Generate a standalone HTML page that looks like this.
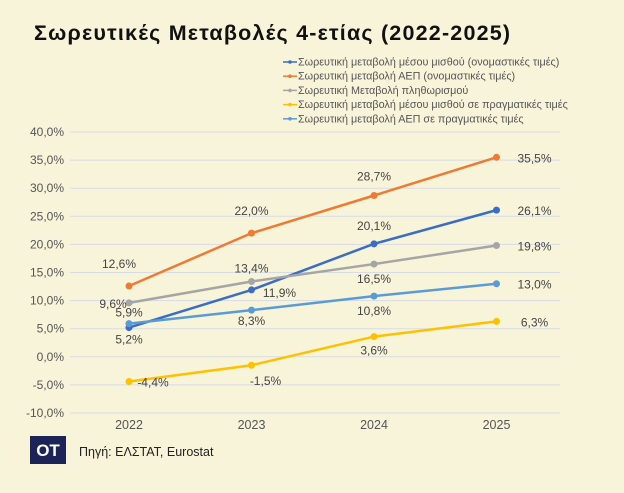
<!DOCTYPE html>
<html><head><meta charset="utf-8">
<style>
body{margin:0;background:#f8f4da;font-family:"Liberation Sans","DejaVu Sans",sans-serif;}
#wrap{position:relative;width:624px;height:493px;background:#f8f4da;overflow:hidden}
</style></head>
<body>
<div id="wrap">
<svg id="chart" width="624" height="493">
<text x="34" y="40" font-size="21.5" font-weight="bold" fill="#111" letter-spacing="1.2">Σωρευτικές Μεταβολές 4-ετίας (2022-2025)</text>
<rect x="30" y="436" width="36" height="28" fill="#1c2457"/>
<text x="48" y="456" font-size="17" font-weight="bold" fill="#fff" text-anchor="middle">OT</text>
<text x="79" y="456" font-size="12.5" fill="#222">Πηγή: ΕΛΣΤΑΤ, Eurostat</text>
</svg>
</div>
<script>
const categories=["2022","2023","2024","2025"];
const wageNominal=[5.2,11.9,20.1,26.1];
const gdpNominal=[12.6,22.0,28.7,35.5];
const inflation=[9.6,13.4,16.5,19.8];
const wageReal=[-4.4,-1.5,3.6,6.3];
const gdpReal=[5.9,8.3,10.8,13.0];
const yTicks=[40,35,30,25,20,15,10,5,0,-5,-10];
const seriesNames=["Σωρευτική μεταβολή μέσου μισθού (ονομαστικές τιμές)","Σωρευτική μεταβολή ΑΕΠ (ονομαστικές τιμές)","Σωρευτική Μεταβολή πληθωρισμού","Σωρευτική μεταβολή μέσου μισθού σε πραγματικές τιμές","Σωρευτική μεταβολή ΑΕΠ σε πραγματικές τιμές"];

const NS="http://www.w3.org/2000/svg";
const svg=document.getElementById('chart');
const yS=v=>132+(40-v)*5.62;
const xS=i=>129+i*122.5;
const fmt=v=>v.toFixed(1).replace('.',',')+'%';
function mk(tag,attrs,parent){const e=document.createElementNS(NS,tag);for(const k in attrs)e.setAttribute(k,attrs[k]);(parent||svg).appendChild(e);return e;}

yTicks.forEach(t=>{
  const l=mk('line',{x1:70,x2:560,y1:yS(t),y2:yS(t),stroke:'#d6dbe6','stroke-width':1});
  
  
  const tx=mk('text',{x:64,y:yS(t)+4,'font-size':12,fill:'#555','text-anchor':'end'});
  tx.textContent=fmt(t);
  
  
});
categories.forEach((c,i)=>{
  const tx=mk('text',{x:xS(i),y:429,'font-size':12.5,fill:'#555','text-anchor':'middle'});
  tx.textContent=c;
  
  
});

const series=[
 {d:wageNominal,c:'#3b6cc6',off:[[0,16],[28,7],[0,-14],[38,5]]},
 {d:gdpNominal,c:'#f07a33',off:[[-10,-18],[0,-18],[0,-15],[38,5]]},
 {d:inflation,c:'#a5a5a5',off:[[-16,5],[0,-9],[0,19],[38,5]]},
 {d:wageReal,c:'#ffc000',off:[[24,5],[14,20],[0,18],[38,5]]},
 {d:gdpReal,c:'#5b9bd5',off:[[0,-7],[0,15],[0,19],[38,5]]}
];
series.forEach((s,si)=>{
  const g=mk('g',{});
  
  
  const pts=s.d.map((v,i)=>xS(i)+','+yS(v)).join(' ');
  const pl=mk('polyline',{points:pts,fill:'none',stroke:s.c,'stroke-width':2.5},g);
  
  
  s.d.forEach((v,i)=>{
    const c=mk('circle',{cx:xS(i),cy:yS(v),r:3.5,fill:s.c},g);
    
    
    const t=mk('text',{x:xS(i)+s.off[i][0],y:yS(v)+s.off[i][1],'font-size':12,fill:'#444','text-anchor':'middle'},g);
    t.textContent=fmt(v);
    
    
  });
  const ly=62+si*14.2;
  const ll=mk('line',{x1:283,x2:297,y1:ly,y2:ly,stroke:s.c,'stroke-width':1.5});
  
  
  mk('circle',{cx:290,cy:ly,r:1.8,fill:s.c});
  const lt=mk('text',{x:298,y:ly+3.5,'font-size':10.8,fill:'#555'});
  lt.textContent=seriesNames[si];
  
  
});
</script>
</body></html>
